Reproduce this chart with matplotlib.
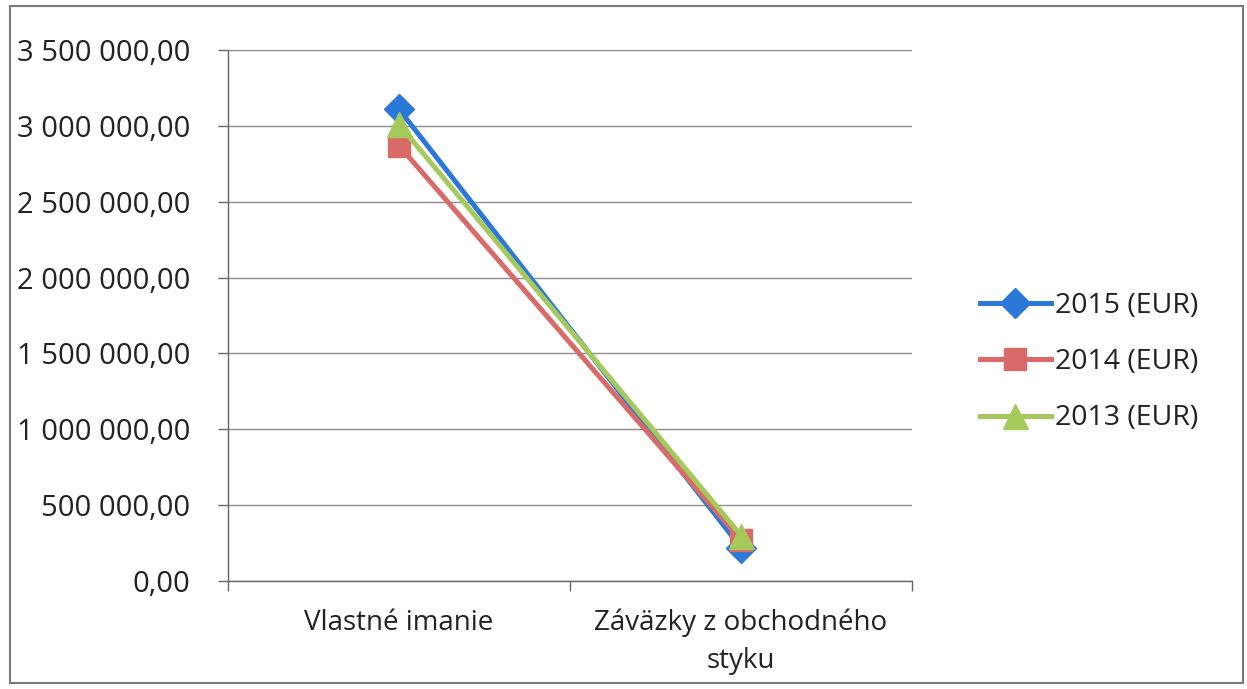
import matplotlib
matplotlib.use("Agg")
import matplotlib.pyplot as plt
from matplotlib.patches import Rectangle

# chart data
categories = ["Vlastné imanie", "Záväzky z obchodného\nstyku"]
series_names = ["2015 (EUR)", "2014 (EUR)", "2013 (EUR)"]
values_2015 = [3110000, 220000]
values_2014 = [2870000, 270000]
values_2013 = [3010000, 300000]
y_ticks = [0, 500000, 1000000, 1500000, 2000000, 2500000, 3000000, 3500000]


def fmt(v):
    # slovak style: space as thousands separator, comma for decimals
    s = "{:,.2f}".format(v)
    return s.replace(",", " ").replace(".", ",")


plt.rcParams['font.family'] = ['Open Sans', 'DejaVu Sans']

fig = plt.figure(figsize=(12.47, 6.89), dpi=100)
ax = fig.add_axes([0.1828, 0.1567, 0.7314 - 0.1828, 0.9274 - 0.1567])

# outer chart frame
fig.patches.append(Rectangle((10 / 1247, 6 / 689), 1233 / 1247, 677 / 689,
                             transform=fig.transFigure, fill=False,
                             edgecolor='#7a7a7a', linewidth=1.5))

x = list(range(len(categories)))
styles = [
    (values_2015, 'D', '#2b78d8', 15),
    (values_2014, 's', '#d96a68', 16),
    (values_2013, '^', '#a6c95c', 18),
]
for (vals, mk, col, ms), name in zip(styles, series_names):
    ax.plot(x, vals, color=col, linewidth=3.6, marker=mk, markersize=ms,
            markeredgecolor=col, label=name)

ax.set_xlim(-0.5, 1.5)
ax.set_ylim(0, 3500000)
ax.set_yticks(y_ticks)
ax.set_yticklabels([fmt(v) for v in y_ticks])
ax.yaxis.grid(True, color='#8c8c8c', linewidth=1.0)
ax.set_axisbelow(True)

ax.set_xticks(x)
ax.set_xticklabels(categories, linespacing=1.45)
ax.set_xticks([-0.5, 0.5, 1.5], minor=True)
ax.tick_params(axis='x', which='major', length=0, pad=20, labelsize=20,
               colors='#222222')
ax.tick_params(axis='x', which='minor', length=7, width=1, color='#666666',
               direction='out')
ax.tick_params(axis='y', length=7, width=1, color='#666666', pad=20,
               labelsize=21, labelcolor='#222222')

for side in ['top', 'right']:
    ax.spines[side].set_visible(False)
for side in ['left', 'bottom']:
    ax.spines[side].set_color('#666666')
    ax.spines[side].set_linewidth(1.0)

fig.legend(loc='center left', bbox_to_anchor=(954 / 1247, 1 - 362 / 689),
           frameon=False, fontsize=20.5, handlelength=2.5, labelspacing=1.0,
           handletextpad=0.15, labelcolor='#222222')

fig.savefig('out.png', dpi=100)
